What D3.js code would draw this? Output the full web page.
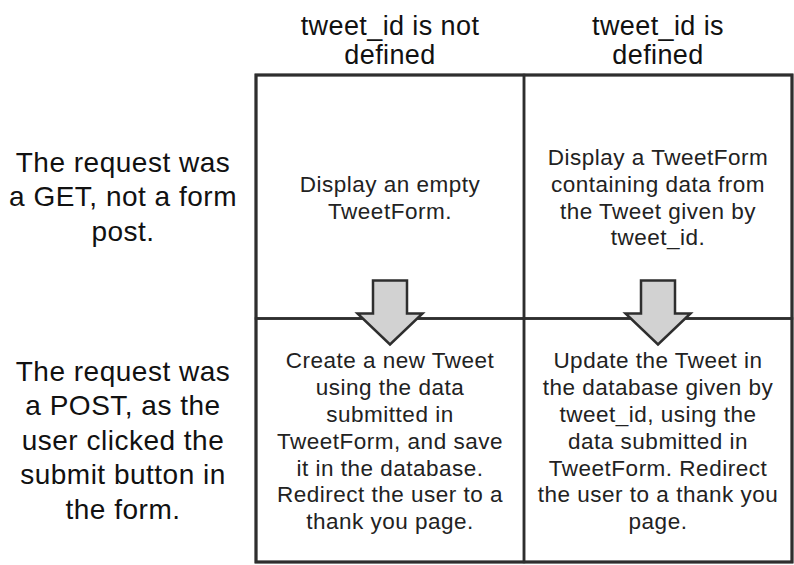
<!DOCTYPE html>
<html>
<head>
<meta charset="utf-8">
<script src="https://cdn.jsdelivr.net/npm/d3@7/dist/d3.min.js"></script>
<style>
  html, body { margin: 0; padding: 0; background: #fff; }
  svg { display: block; }
  text { font-family: "Liberation Sans", Arial, Helvetica, sans-serif; }
</style>
</head>
<body>
<svg id="chart" width="794" height="565"></svg>
<script>
// ---- data ----
const columns = ["notDefined", "defined"];
const columnLabels = [["tweet_id is not", "defined"], ["tweet_id is", "defined"]];
const rows = ["GET", "POST"];
const rowLabels = [
  ["The request was", "a GET, not a form", "post."],
  ["The request was", "a POST, as the", "user clicked the", "submit button in", "the form."]
];
const cellTexts = [
  { row: "GET", col: "notDefined", lines: ["Display an empty", "TweetForm."] },
  { row: "GET", col: "defined", lines: ["Display a TweetForm", "containing data from", "the Tweet given by", "tweet_id."] },
  { row: "POST", col: "notDefined", lines: ["Create a new Tweet", "using the data", "submitted in", "TweetForm, and save", "it in the database.", "Redirect the user to a", "thank you page."] },
  { row: "POST", col: "defined", lines: ["Update the Tweet in", "the database given by", "tweet_id, using the", "data submitted in", "TweetForm. Redirect", "the user to a thank you", "page."] }
];
const arrows = [
  { col: "notDefined", from: "GET", to: "POST" },
  { col: "defined", from: "GET", to: "POST" }
];

// ---- layout ----
const svg = d3.select("#chart");
const x = d3.scaleBand().domain(columns).range([256, 792]).padding(0);
const y = d3.scaleBand().domain(rows).range([75, 562]).padding(0);
const rowLabelX = 123;
const lineColor = "#2e2e2e";

// column headers
const hdr = svg.append("g");
columns.forEach((c, i) => {
  columnLabels[i].forEach((ln, j) => {
    hdr.append("text")
      .attr("text-anchor", "middle")
      .attr("font-size", 27)
      .attr("letter-spacing", 0.4)
      .attr("fill", "#111")
      .attr("x", x(c) + x.bandwidth() / 2)
      .attr("y", 35 + j * 28.5)
      .text(ln);
  });
});

// row labels
rows.forEach((r, i) => {
  const lines = rowLabels[i];
  const lh = 34.5;
  const cy = y(r) + y.bandwidth() / 2 + 9.5 - (lines.length - 1) / 2 * lh;
  const t = svg.append("text")
    .attr("text-anchor", "middle")
    .attr("font-size", 28)
    .attr("letter-spacing", 0.5)
    .attr("fill", "#111");
  lines.forEach((ln, j) => {
    t.append("tspan").attr("x", rowLabelX).attr("y", cy + j * lh).text(ln);
  });
});

// grid
const grid = svg.append("g").attr("fill", "none").attr("stroke", lineColor);
columns.forEach(c => rows.forEach(r => {
  grid.append("rect")
    .attr("x", x(c)).attr("y", y(r))
    .attr("width", x.bandwidth()).attr("height", y.bandwidth())
    .attr("stroke-width", 2.5);
}));
grid.append("rect")
  .attr("x", x.range()[0]).attr("y", y.range()[0])
  .attr("width", x.range()[1] - x.range()[0]).attr("height", y.range()[1] - y.range()[0])
  .attr("stroke-width", 3);

// arrows
arrows.forEach(a => {
  const cx = x(a.col) + x.bandwidth() / 2;
  const boundary = y(a.to);
  const shaftW = 17, headW = 32.5;
  const top = boundary - 38, base = boundary - 5, tip = boundary + 26;
  const pts = [
    [cx - shaftW, top], [cx + shaftW, top], [cx + shaftW, base],
    [cx + headW, base], [cx, tip], [cx - headW, base], [cx - shaftW, base]
  ];
  svg.append("path")
    .attr("d", d3.line()(pts) + "Z")
    .attr("fill", "#d2d2d2")
    .attr("stroke", lineColor)
    .attr("stroke-width", 2.5)
    .attr("stroke-linejoin", "miter");
});

// cell texts
cellTexts.forEach(d => {
  const lh = 26.8;
  const cx = x(d.col) + x.bandwidth() / 2;
  const cy = y(d.row) + y.bandwidth() / 2 + 8.5 - (d.lines.length - 1) / 2 * lh;
  const t = svg.append("text")
    .attr("text-anchor", "middle")
    .attr("font-size", 22.5)
    .attr("letter-spacing", 0.5)
    .attr("fill", "#222");
  d.lines.forEach((ln, j) => {
    t.append("tspan").attr("x", cx).attr("y", cy + j * lh).text(ln);
  });
});
</script>
</body>
</html>
